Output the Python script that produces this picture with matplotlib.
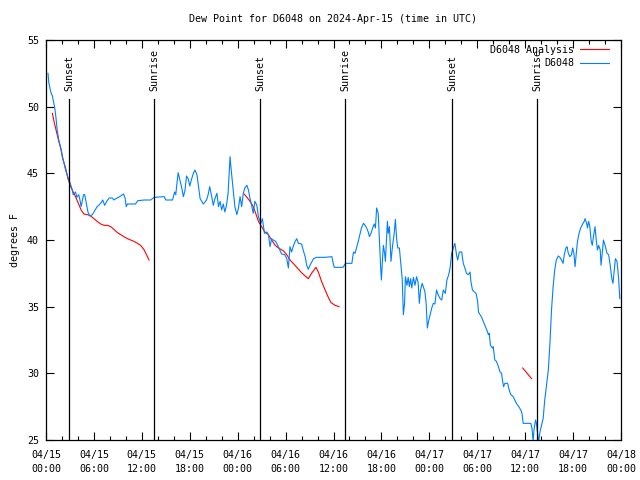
import numpy as np
import pandas as pd
import matplotlib
matplotlib.use('Agg')
import matplotlib.pyplot as plt
import matplotlib.dates as mdates

# hours after 2024-04-15 00:00 UTC, dew point in F
obs_hours = [0.25, 0.35, 0.6, 0.8, 0.9, 1.1, 1.25, 1.4, 1.6, 1.85, 2.05, 2.25, 2.45, 2.75, 3.0, 3.3, 3.4,
             3.7, 3.85, 4.1, 4.25, 4.4, 4.7, 4.85, 5.1, 5.25, 5.5, 5.8, 6.0, 6.4, 6.6, 6.9, 7.1, 7.35, 7.6,
             7.9, 8.3, 8.5, 8.9, 9.35, 9.7, 9.9, 10.05, 10.2, 10.8, 11.2, 11.5, 12.3, 13.1, 13.55, 14.8,
             15.0, 15.85, 16.1, 16.25, 16.35, 16.55, 16.8, 17.0, 17.2, 17.4, 17.6, 17.8, 18.0, 18.2, 18.45,
             18.65, 18.9, 19.1, 19.3, 19.7, 20.1, 20.3, 20.5, 20.75, 20.95, 21.15, 21.4, 21.6, 21.8, 22.0,
             22.2, 22.4, 22.6, 22.8, 23.05, 23.15, 23.4, 23.65, 23.9, 24.1, 24.3, 24.5, 24.7, 24.9, 25.15,
             25.35, 25.55, 25.75, 25.95, 26.15, 26.4, 26.6, 26.9, 27.1, 27.35, 27.65, 27.85, 28.05, 28.25,
             28.45, 28.75, 29.1, 29.5, 29.9, 30.15, 30.35, 30.55, 30.75, 30.95, 31.2, 31.4, 31.6, 32.0,
             32.2, 32.45, 32.65, 32.85, 33.05, 33.5, 33.9, 34.95, 35.8, 35.9, 36.1, 37.2, 37.5, 38.3, 38.5,
             38.7, 38.9, 39.1, 39.3, 39.5, 39.75, 39.95, 40.15, 40.35, 40.5, 40.7, 40.9, 41.1, 41.25, 41.4,
             41.6, 41.75, 41.9, 42.0, 42.15, 42.25, 42.4, 42.5, 42.75, 42.85, 43.0, 43.2, 43.4, 43.6,
             43.75, 43.9, 44.05, 44.25, 44.4, 44.6, 44.75, 44.9, 45.0, 45.2, 45.35, 45.5, 45.65, 45.8,
             46.0, 46.2, 46.4, 46.6, 46.75, 46.9, 47.1, 47.3, 47.45, 47.6, 47.75, 47.9, 48.1, 48.3, 48.5,
             48.7, 48.9, 49.1, 49.35, 49.55, 49.75, 50.0, 50.2, 50.4, 50.6, 50.8, 51.0, 51.2, 51.4, 51.55,
             51.75, 52.05, 52.25, 52.45, 52.65, 52.9, 53.1, 53.2, 53.4, 53.65, 53.85, 54.05, 54.15, 54.35,
             54.55, 54.75, 54.95, 55.2, 55.4, 55.5, 55.65, 55.9, 56.0, 56.2, 56.4, 56.6, 56.85, 57.05,
             57.15, 57.3, 57.45, 57.8, 58.0, 58.2, 58.5, 58.7, 58.9, 59.2, 59.45, 59.6, 59.75, 60.35,
             60.7, 60.85, 61.0, 61.1, 61.3, 61.4, 61.55, 61.7, 61.85, 62.05, 62.25, 62.45, 62.7, 62.9,
             63.1, 63.3, 63.5, 63.7, 63.9, 64.15, 64.35, 64.55, 64.75, 64.9, 65.1, 65.25, 65.4, 65.6,
             65.8, 65.95, 66.1, 66.25, 66.4, 66.55, 66.75, 66.95, 67.2, 67.4, 67.5, 67.7, 67.8, 67.95,
             68.1, 68.25, 68.4, 68.55, 68.75, 68.9, 69.05, 69.2, 69.4, 69.5, 69.65, 69.8, 70.05, 70.25,
             70.45, 70.65, 70.85, 71.0, 71.1, 71.3, 71.5, 71.6, 71.7, 71.85]
obs_dewpt = [52.5, 51.8, 51.1, 50.8, 50.5, 49.9, 49.15, 48.25, 47.5, 46.9, 46.2, 45.8, 45.25, 44.7, 44.3,
             43.75, 43.4, 43.6, 43.2, 43.4, 43.0, 42.5, 43.4, 43.4, 42.6, 42.1, 41.8, 41.9, 42.1, 42.5,
             42.6, 42.8, 43.0, 42.6, 42.9, 43.15, 43.15, 43.0, 43.15, 43.3, 43.45, 43.15, 42.5, 42.7, 42.7,
             42.7, 42.95, 43.0, 43.0, 43.2, 43.25, 43.0, 43.0, 43.6, 43.4, 44.0, 45.05, 44.4, 43.9, 43.25,
             43.7, 44.8, 44.6, 44.05, 44.5, 45.0, 45.25, 44.9, 44.0, 43.1, 42.7, 43.0, 43.4, 44.0, 43.25,
             42.6, 43.1, 43.5, 42.5, 42.9, 42.25, 42.7, 42.1, 42.6, 43.5, 46.25, 45.5, 44.0, 42.5, 41.9,
             42.4, 43.25, 42.5, 43.5, 43.9, 44.1, 43.75, 43.1, 42.6, 42.0, 42.9, 42.6, 41.75, 41.25, 41.6,
             40.5, 40.6, 40.4, 39.5, 40.1, 40.0, 39.9, 39.5, 38.95, 38.9, 38.6, 37.9, 39.5, 39.1, 39.5,
             39.9, 40.1, 39.75, 39.7, 39.25, 38.75, 38.1, 37.8, 38.1, 38.6, 38.7, 38.7, 38.75, 38.4, 37.95,
             37.95, 38.25, 38.25, 39.1, 39.0, 39.45, 39.9, 40.4, 40.9, 41.25, 41.1, 40.9, 40.6, 40.25,
             40.5, 40.9, 41.2, 40.9, 42.4, 42.0, 40.0, 38.0, 37.0, 38.75, 39.6, 39.0, 38.4, 41.4, 40.5,
             41.0, 38.4, 39.6, 40.5, 41.55, 40.1, 39.4, 39.4, 38.4, 37.1, 34.4, 35.25, 37.25, 36.6, 37.2,
             36.5, 37.1, 36.4, 37.2, 36.6, 37.25, 36.8, 35.25, 36.25, 36.75, 36.4, 36.1, 35.25, 33.4,
             33.9, 34.4, 34.9, 35.25, 35.2, 36.25, 35.9, 35.6, 35.5, 36.25, 36.0, 37.0, 37.35, 37.9, 39.0,
             39.4, 39.75, 38.9, 38.5, 39.1, 39.1, 38.25, 37.9, 37.5, 37.4, 37.6, 36.9, 36.25, 36.1, 36.0,
             35.4, 34.6, 34.4, 34.2, 33.9, 33.6, 33.25, 32.9, 33.0, 32.1, 31.9, 32.0, 31.0, 30.9, 30.6,
             30.1, 30.0, 29.5, 29.0, 29.25, 29.25, 28.75, 28.4, 28.25, 28.0, 27.75, 27.5, 27.25, 27.0,
             26.25, 26.25, 26.25, 25.9, 24.9, 25.75, 26.5, 26.3, 25.5, 24.9, 25.6, 26.1, 26.6, 28.0,
             29.25, 30.25, 32.25, 34.75, 36.5, 37.75, 38.5, 38.8, 38.7, 38.5, 38.25, 38.9, 39.4, 39.5,
             39.0, 38.75, 38.9, 39.4, 39.0, 38.0, 39.0, 39.9, 40.5, 40.9, 41.2, 41.4, 41.6, 41.25, 40.9,
             41.4, 41.0, 40.0, 39.6, 40.25, 41.0, 40.0, 39.25, 39.6, 39.25, 38.1, 39.0, 40.0, 39.5, 39.0,
             38.9, 38.1, 37.1, 36.75, 37.4, 38.6, 38.4, 37.8, 37.1, 35.6]

# analysis, three separate runs (nan breaks the line)
ana_hours = [0.8, 1.0, 1.2, 1.4, 1.6, 1.9, 2.15, 2.45, 2.75, 3.1, 3.4, 3.7, 4.05, 4.4, 4.75, 5.2, 5.6,
             6.0, 6.4, 6.85, 7.25, 7.7, 8.1, 8.5, 8.95, 9.35, 9.75, 10.2, 10.6, 11.0, 11.45, 11.85, 12.3,
             12.5, 12.9, 18.0,
             24.8, 25.1, 25.55, 25.95, 26.2, 26.6, 27.0, 27.4, 27.85, 28.25, 28.7, 29.1, 29.7, 30.15,
             30.55, 30.95, 31.4, 32.0, 32.45, 32.85, 33.25, 33.8, 34.1, 34.5, 34.95, 35.35, 35.7, 36.2,
             36.7, 48.0,
             59.7, 60.8]
ana_dewpt = [49.5, 48.9, 48.4, 47.9, 47.4, 46.75, 46.0, 45.4, 44.6, 44.0, 43.6, 43.25, 42.75, 42.25,
             41.95, 41.9, 41.8, 41.6, 41.4, 41.2, 41.1, 41.1, 41.0, 40.8, 40.55, 40.4, 40.25, 40.1, 40.0,
             39.9, 39.75, 39.6, 39.25, 39.0, 38.5, np.nan,
             43.45, 43.25, 42.9, 42.5, 42.1, 41.4, 41.0, 40.6, 40.4, 40.0, 39.6, 39.4, 39.2, 38.9, 38.5,
             38.25, 37.95, 37.55, 37.3, 37.1, 37.5, 37.95, 37.6, 36.9, 36.25, 35.7, 35.3, 35.1, 35.0,
             np.nan,
             30.4, 29.6]

sun_hours = [2.92, 13.57, 26.85, 37.5, 50.87, 61.52]
sun_names = ['Sunset', 'Sunrise', 'Sunset', 'Sunrise', 'Sunset', 'Sunrise']

start = pd.Timestamp('2024-04-15 00:00')
def to_time(h):
    return start + pd.to_timedelta(np.array(h), unit='h')

plt.rcParams['font.family'] = 'DejaVu Sans Mono'
plt.rcParams['font.size'] = 7.2

fig = plt.figure(figsize=(6.4, 4.8), dpi=100)
ax = fig.add_axes([46/640, 40/480, 575/640, 400/480])

ax.plot(to_time(ana_hours), ana_dewpt, color='#ff0000', lw=0.8, label='D6048 Analysis')
ax.plot(to_time(obs_hours), obs_dewpt, color='#0080ff', lw=0.8, label='D6048')

for h, name in zip(sun_hours, sun_names):
    t = to_time([h])[0]
    ax.plot([t, t], [25, 50.6], color='black', lw=0.9)
    ax.text(t, 51.15, name, rotation=90, ha='center', va='bottom')

ax.set_xlim(start, start + pd.Timedelta(hours=72))
ax.set_ylim(25, 55)
ax.set_yticks([25, 30, 35, 40, 45, 50, 55])
ax.xaxis.set_major_locator(mdates.HourLocator(byhour=[0, 6, 12, 18]))
ax.xaxis.set_minor_locator(mdates.HourLocator(interval=2))
ax.xaxis.set_major_formatter(mdates.DateFormatter('%m/%d\n%H:%M'))
ax.tick_params(which='both', direction='in', top=True, right=True, colors='black')
ax.tick_params(which='major', length=6, width=0.8)
ax.tick_params(which='minor', length=3, width=0.8)
ax.tick_params(axis='x', pad=7)
ax.tick_params(axis='y', pad=5)
for lbl in ax.get_xticklabels():
    lbl.set_linespacing(1.5)
for sp in ax.spines.values():
    sp.set_linewidth(0.9)

ax.set_ylabel('degrees F')
ax.yaxis.set_label_coords(-26/575, 0.5)

fig.text(333/640, 1 - 19/480, 'Dew Point for D6048 on 2024-Apr-15 (time in UTC)', ha='center', va='center')

ax.legend(loc='upper right', frameon=False, markerfirst=False, handlelength=2.9,
          handletextpad=0.6, labelspacing=0.35, borderaxespad=0.3, bbox_to_anchor=(0.992, 1.006))

fig.savefig('out.png', dpi=100)
